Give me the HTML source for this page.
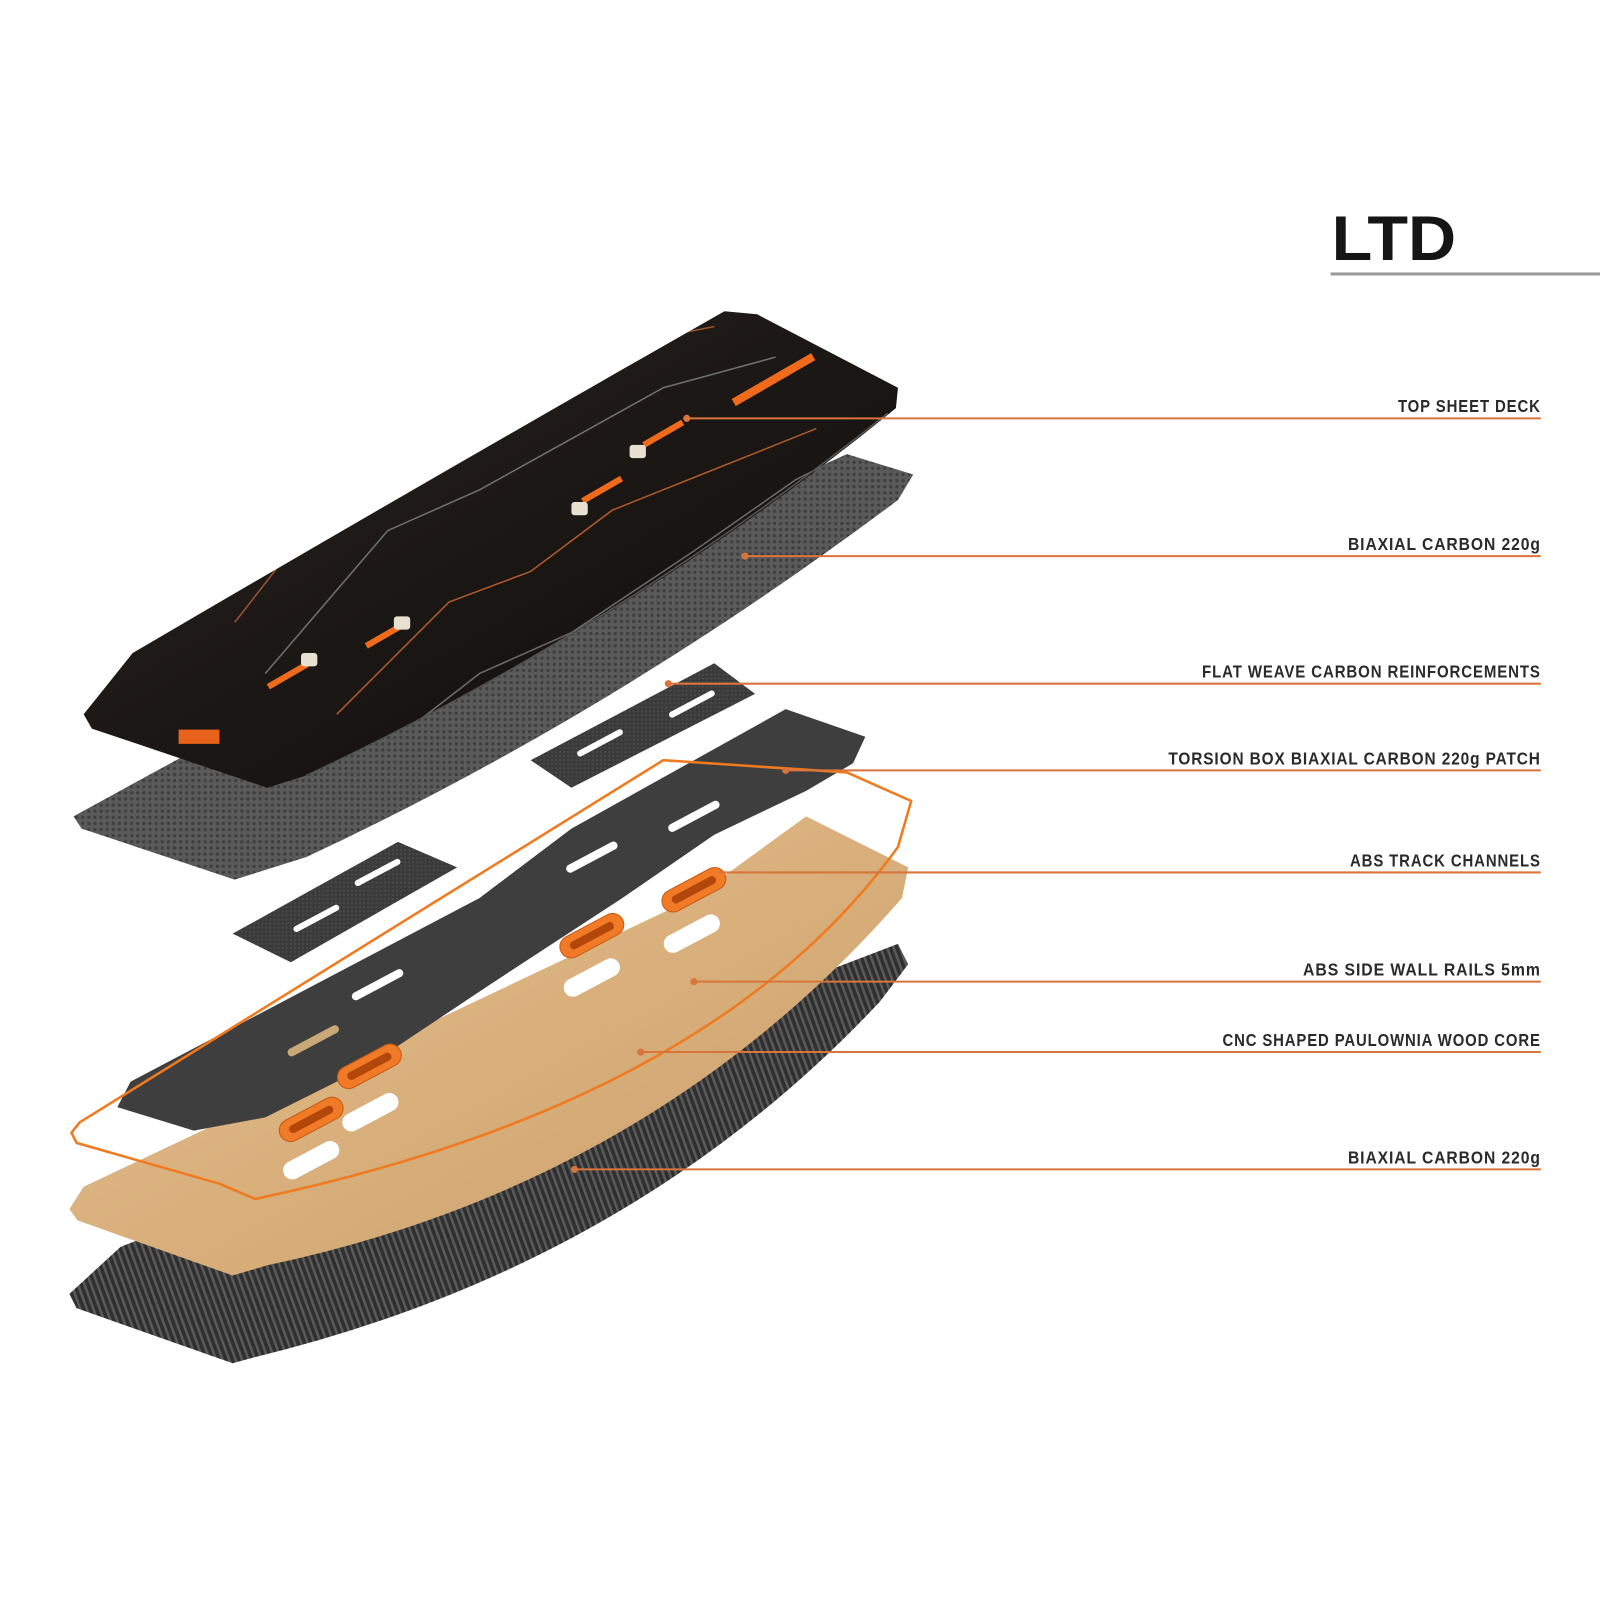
<!DOCTYPE html>
<html><head><meta charset="utf-8"><style>
html,body{margin:0;padding:0;background:#fff;}
svg{display:block;}
.lb{font-family:"Liberation Sans",sans-serif;font-weight:bold;font-size:17px;fill:#2a2a2a;letter-spacing:1px;}
</style></head><body>
<svg width="1600" height="1600" viewBox="0 0 1568 1568" xmlns="http://www.w3.org/2000/svg">
<defs>
<pattern id="hex" width="6" height="6" patternUnits="userSpaceOnUse"><rect width="6" height="6" fill="#5a5a5a"/><circle cx="3" cy="3" r="1.6" fill="#3e3e3e"/></pattern>
<pattern id="str" width="6" height="6" patternUnits="userSpaceOnUse" patternTransform="rotate(-20)"><rect width="6" height="6" fill="#2f2f2f"/><rect width="2.5" height="6" fill="#5a5a5a"/></pattern>
<pattern id="wv" width="4" height="4" patternUnits="userSpaceOnUse"><rect width="4" height="4" fill="#3a3a3a"/><rect width="2" height="2" fill="#484848"/></pattern>
<linearGradient id="wood" x1="0" y1="0" x2="1" y2="1"><stop offset="0" stop-color="#e6c295"/><stop offset="0.5" stop-color="#d9b07c"/><stop offset="1" stop-color="#c99c68"/></linearGradient>
<linearGradient id="deck" x1="0" y1="0" x2="1" y2="1"><stop offset="0" stop-color="#2a2420"/><stop offset="0.5" stop-color="#1b1715"/><stop offset="1" stop-color="#0f0d0c"/></linearGradient>
<clipPath id="dk"><path d="M82,700 L130,640 Q420,470 710,305 L742,308 L880,380 L878,400 Q620,610 300,760 L262,772 L90,714 Z"/></clipPath>
</defs>

<!-- title -->
<text x="1305" y="255" font-family="Liberation Sans,sans-serif" font-weight="bold" font-size="62" fill="#151515" textLength="122" lengthAdjust="spacingAndGlyphs">LTD</text>
<rect x="1304" y="267" width="264" height="3" fill="#9a9a9a"/>

<!-- bottom carbon -->
<path d="M68,1268 L118,1222 Q500,1070 880,925 L890,945 L862,982 Q620,1240 250,1330 L228,1336 L75,1282 Z" fill="url(#str)"/>

<!-- wood core -->
<path d="M68,1185 L82,1163 L680,880 L790,800 L890,850 L884,880 Q640,1160 262,1240 L228,1250 L76,1196 Z" fill="url(#wood)"/>
<g fill="#fff">
<rect x="-30" y="-9" width="60" height="18" rx="9" transform="translate(678,915) rotate(-28)"/>
<rect x="-30" y="-9" width="60" height="18" rx="9" transform="translate(580,958) rotate(-28)"/>
<rect x="-30" y="-9" width="60" height="18" rx="9" transform="translate(363,1090) rotate(-28)"/>
<rect x="-30" y="-9" width="60" height="18" rx="9" transform="translate(305,1137) rotate(-28)"/>
</g>

<!-- torsion box dark sheet -->
<path d="M115,1085 L128,1060 L470,880 L560,812 L770,695 L848,722 L836,748 L790,775 L700,818 L610,880 L480,965 L360,1045 L260,1095 L190,1108 Z" fill="#3e3e3e"/>
<g fill="#fff">
<rect x="-28" y="-4" width="56" height="8" rx="4" transform="translate(680,800) rotate(-28)"/>
<rect x="-28" y="-4" width="56" height="8" rx="4" transform="translate(580,840) rotate(-28)"/>
<rect x="-28" y="-4" width="56" height="8" rx="4" transform="translate(370,965) rotate(-28)"/>
</g>
<rect x="-28" y="-4" width="56" height="8" rx="4" transform="translate(307,1020) rotate(-28)" fill="#c9a878"/>

<!-- orange slots -->
<g fill="#f07a25" stroke="#c85a12" stroke-width="1">
<rect x="-34" y="-11" width="68" height="22" rx="11" transform="translate(680,872) rotate(-28)"/>
<rect x="-34" y="-11" width="68" height="22" rx="11" transform="translate(580,917) rotate(-28)"/>
<rect x="-34" y="-11" width="68" height="22" rx="11" transform="translate(362,1045) rotate(-28)"/>
<rect x="-34" y="-11" width="68" height="22" rx="11" transform="translate(305,1097) rotate(-28)"/>
</g>
<g fill="#b3460a">
<rect x="-24" y="-4" width="48" height="8" rx="4" transform="translate(680,872) rotate(-28)"/>
<rect x="-24" y="-4" width="48" height="8" rx="4" transform="translate(580,917) rotate(-28)"/>
<rect x="-24" y="-4" width="48" height="8" rx="4" transform="translate(362,1045) rotate(-28)"/>
<rect x="-24" y="-4" width="48" height="8" rx="4" transform="translate(305,1097) rotate(-28)"/>
</g>

<!-- side wall rails outline -->
<path d="M70,1110 L78,1100 L650,745 L830,757 L893,785 L880,830 Q700,1080 250,1175 L215,1160 L75,1120 Z" fill="none" stroke="#f07a20" stroke-width="2.5" stroke-linejoin="round"/>

<!-- flat weave patches -->
<path d="M520,745 L700,650 L740,680 L560,772 Z" fill="url(#wv)"/>
<path d="M228,915 L390,825 L448,850 L285,943 Z" fill="url(#wv)"/>
<g fill="#fff">
<rect x="-25" y="-3" width="50" height="6" rx="3" transform="translate(678,690) rotate(-28)"/>
<rect x="-25" y="-3" width="50" height="6" rx="3" transform="translate(588,728) rotate(-28)"/>
<rect x="-25" y="-3" width="50" height="6" rx="3" transform="translate(370,855) rotate(-28)"/>
<rect x="-25" y="-3" width="50" height="6" rx="3" transform="translate(310,900) rotate(-28)"/>
</g>

<!-- hex carbon sheet -->
<path d="M72,800 L200,730 L830,445 L895,465 L880,490 Q600,700 300,840 L230,862 L80,812 Z" fill="url(#hex)"/>

<!-- top deck -->
<path d="M82,700 L130,640 Q420,470 710,305 L742,308 L880,380 L878,400 Q620,610 300,760 L262,772 L90,714 Z" fill="url(#deck)"/>
<g fill="none" stroke-width="1.5" clip-path="url(#dk)">
<path d="M230,610 L300,520 L420,460 L520,410 L600,340 L700,320" stroke="#9a5530"/>
<path d="M260,660 L380,520 L470,480 L560,430 L650,380 L760,350" stroke="#707070"/>
<path d="M330,700 L440,590 L520,560 L600,500 L700,460 L800,420" stroke="#b05a2a"/>
<path d="M380,730 L470,660 L560,620 L680,540 L780,470 L840,440" stroke="#6a6a6a"/>
<path d="M300,760 Q600,620 870,405" stroke="#555"/>
</g>
<g fill="#f06a1c">
<rect x="-45" y="-4" width="90" height="8" transform="translate(758,372) rotate(-30)"/>
<rect x="-22" y="-3" width="44" height="6" transform="translate(650,425) rotate(-30)"/>
<rect x="-22" y="-3" width="44" height="6" transform="translate(590,480) rotate(-30)"/>
<rect x="-22" y="-3" width="44" height="6" transform="translate(378,622) rotate(-30)"/>
<rect x="-22" y="-3" width="44" height="6" transform="translate(282,662) rotate(-30)"/>
<rect x="175" y="715" width="40" height="14" fill="#e8621a"/>
</g>
<g fill="#e8e0d0">
<rect x="617" y="436" width="16" height="13" rx="3"/>
<rect x="560" y="492" width="16" height="13" rx="3"/>
<rect x="386" y="604" width="16" height="13" rx="3"/>
<rect x="295" y="640" width="16" height="13" rx="3"/>
</g>

<!-- leader lines -->
<g stroke="#d9743a" stroke-width="2" fill="#d9743a">
<line x1="673" y1="410" x2="1510" y2="410"/><circle cx="673" cy="410" r="2.5"/>
<line x1="730" y1="545" x2="1510" y2="545"/><circle cx="730" cy="545" r="2.5"/>
<line x1="655" y1="670" x2="1510" y2="670"/><circle cx="655" cy="670" r="2.5"/>
<line x1="770" y1="755" x2="1510" y2="755"/><circle cx="770" cy="755" r="2.5"/>
<line x1="705" y1="855" x2="1510" y2="855"/>
<line x1="680" y1="962" x2="1510" y2="962"/><circle cx="680" cy="962" r="2.5"/>
<line x1="628" y1="1031" x2="1510" y2="1031"/><circle cx="628" cy="1031" r="2.5"/>
<line x1="563" y1="1146" x2="1510" y2="1146"/><circle cx="563" cy="1146" r="2.5"/>
</g>

<!-- labels -->
<text class="lb" x="1370" y="404" textLength="140" lengthAdjust="spacingAndGlyphs">TOP SHEET DECK</text>
<text class="lb" x="1321" y="539" textLength="189" lengthAdjust="spacingAndGlyphs">BIAXIAL CARBON 220g</text>
<text class="lb" x="1178" y="664" textLength="332" lengthAdjust="spacingAndGlyphs">FLAT WEAVE CARBON REINFORCEMENTS</text>
<text class="lb" x="1145" y="749" textLength="365" lengthAdjust="spacingAndGlyphs">TORSION BOX BIAXIAL CARBON 220g PATCH</text>
<text class="lb" x="1323" y="849" textLength="187" lengthAdjust="spacingAndGlyphs">ABS TRACK CHANNELS</text>
<text class="lb" x="1277" y="956" textLength="233" lengthAdjust="spacingAndGlyphs">ABS SIDE WALL RAILS 5mm</text>
<text class="lb" x="1198" y="1025" textLength="312" lengthAdjust="spacingAndGlyphs">CNC SHAPED PAULOWNIA WOOD CORE</text>
<text class="lb" x="1321" y="1140" textLength="189" lengthAdjust="spacingAndGlyphs">BIAXIAL CARBON 220g</text>
</svg>
</body></html>
